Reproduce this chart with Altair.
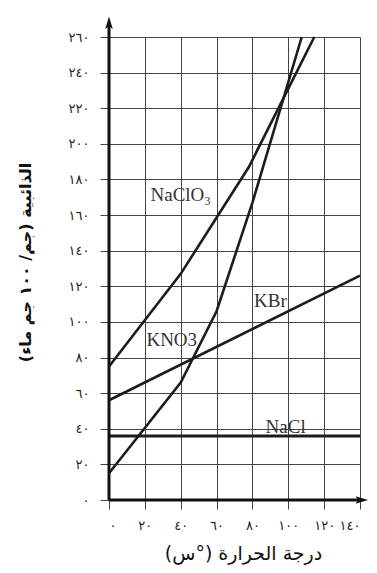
import altair as alt
import pandas as pd

# ---- data ----
temps_nacl = [0, 140]
sol_nacl = [36, 36]
temps_kbr = [0, 140]
sol_kbr = [56, 126]
temps_kno3 = [0, 40, 60, 80, 107.5]
sol_kno3 = [15, 66, 106, 167, 260]
temps_naclo3 = [0, 40, 78, 114.5]
sol_naclo3 = [75, 127, 187, 260]

x_ticks = [0, 20, 40, 60, 80, 100, 120, 140]
x_tick_labels = ["٠", "٢٠", "٤٠", "٦٠", "٨٠", "١٠٠", "١٢٠", "١٤٠"]
y_ticks = [0, 20, 40, 60, 80, 100, 120, 140, 160, 180, 200, 220, 240, 260]
y_tick_labels = ["٠", "٢٠", "٤٠", "٦٠", "٨٠", "١٠٠", "١٢٠", "١٤٠", "١٦٠",
                 "١٨٠", "٢٠٠", "٢٢٠", "٢٤٠", "٢٦٠"]

label_names = ["NaClO₃", "KNO3", "KBr", "NaCl"]
label_x = [40, 35, 90, 98.5]
label_y = [171, 90, 112, 41]

x_title = "درجة الحرارة (°س)\u200f"
y_title = "الذائبية (جم/ ١٠٠ جم ماء)\u200f"

# axis decoration extents (data units)
axis_x_end = [141.0]
axis_y_end = [268.0]

# ---- tables ----
rows = []
for name, xs, ys in [("KBr", temps_kbr, sol_kbr), ("KNO3", temps_kno3, sol_kno3),
                     ("NaClO3", temps_naclo3, sol_naclo3)]:
    for i, (a, b) in enumerate(zip(xs, ys)):
        rows.append({"series": name, "x": a, "y": b, "o": i})
lines_df = pd.DataFrame(rows)
nacl_df = pd.DataFrame({"x": temps_nacl, "y": sol_nacl, "o": [0, 1]})
labels_df = pd.DataFrame({"name": label_names, "x": label_x, "y": label_y})

xscale = alt.Scale(domain=[0, 140], nice=False, zero=False)
yscale = alt.Scale(domain=[0, 260], nice=False, zero=False)

def arr_expr(labels, step):
    items = ",".join("'" + s + "'" for s in labels)
    return "[" + items + "][round(datum.value / " + str(step) + ")]"

x_axis = alt.Axis(values=x_ticks, labelExpr=arr_expr(x_tick_labels, 20),
                  grid=True, gridColor="#444", gridWidth=1, domain=False,
                  ticks=True, tickSize=9, tickColor="#444", tickWidth=1,
                  labelFont="DejaVu Sans", labelFontSize=13, labelPadding=10,
                  labelColor="#222", title=x_title, titleFont="DejaVu Sans",
                  titleFontSize=19, titleFontWeight="normal", titleColor="#111",
                  titleX=134, titleY=53, titleBaseline="middle", titleAlign="center")
y_axis = alt.Axis(values=y_ticks, labelExpr=arr_expr(y_tick_labels, 20),
                  grid=True, gridColor="#444", gridWidth=1, domain=False,
                  ticks=True, tickSize=9, tickColor="#444", tickWidth=1,
                  labelFont="DejaVu Sans", labelFontSize=13, labelPadding=11,
                  labelColor="#222", title=y_title, titleFont="DejaVu Sans",
                  titleFontSize=16, titleFontWeight="bold", titleColor="#111",
                  titleX=-84, titleY=225, titleBaseline="middle", titleAlign="center",
                  titleAngle=270)

X = alt.X("x:Q", scale=xscale, axis=x_axis)
Y = alt.Y("y:Q", scale=yscale, axis=y_axis)

lines = alt.Chart(lines_df).mark_line(color="#1c1c1c", strokeWidth=2.6).encode(
    x=X, y=Y, detail="series:N", order="o:Q",
)

nacl = alt.Chart(nacl_df).mark_line(color="#1c1c1c", strokeWidth=3).encode(
    x=X, y=Y, order="o:Q",
)

labels = alt.Chart(labels_df).mark_text(font="Liberation Serif", fontSize=19,
                                        color="#333", align="center",
                                        baseline="middle").encode(
    x=X, y=Y, text="name:N",
)

yaxis_df = pd.DataFrame({"x": [0], "y": [0], "y2": axis_y_end})
xaxis_df = pd.DataFrame({"x": [0], "x2": axis_x_end, "y": [0]})

yaxis_rule = alt.Chart(yaxis_df).mark_rule(color="#111", strokeWidth=3).encode(
    x=X, y=Y, y2="y2:Q",
)
xaxis_rule = alt.Chart(xaxis_df).mark_rule(color="#111", strokeWidth=3).encode(
    x=X, x2="x2:Q", y=Y,
)

up_arrow = alt.Chart(pd.DataFrame({"x": [0], "y": axis_y_end})).mark_point(
    shape="M0,-1L0.6,1L0,0.55L-0.6,1Z", filled=True, size=160, color="#111",
    opacity=1, strokeWidth=0).encode(x=X, y=Y)
right_arrow = alt.Chart(pd.DataFrame({"x": axis_x_end, "y": [0]})).mark_point(
    shape="M1,0L-1,0.6L-0.55,0L-1,-0.6Z", filled=True, size=160, color="#111",
    opacity=1, strokeWidth=0).encode(x=X, y=Y)

chart = alt.layer(lines, nacl, labels, yaxis_rule, xaxis_rule, up_arrow,
                  right_arrow).properties(
    width=251, height=463,
    autosize=alt.AutoSizeParams(type="none"),
    padding={"left": 101, "top": 29, "right": 9, "bottom": 65},
    background="white",
).configure_view(stroke=None)

chart.save("out.html", embed_options={"renderer": "svg", "actions": False})
